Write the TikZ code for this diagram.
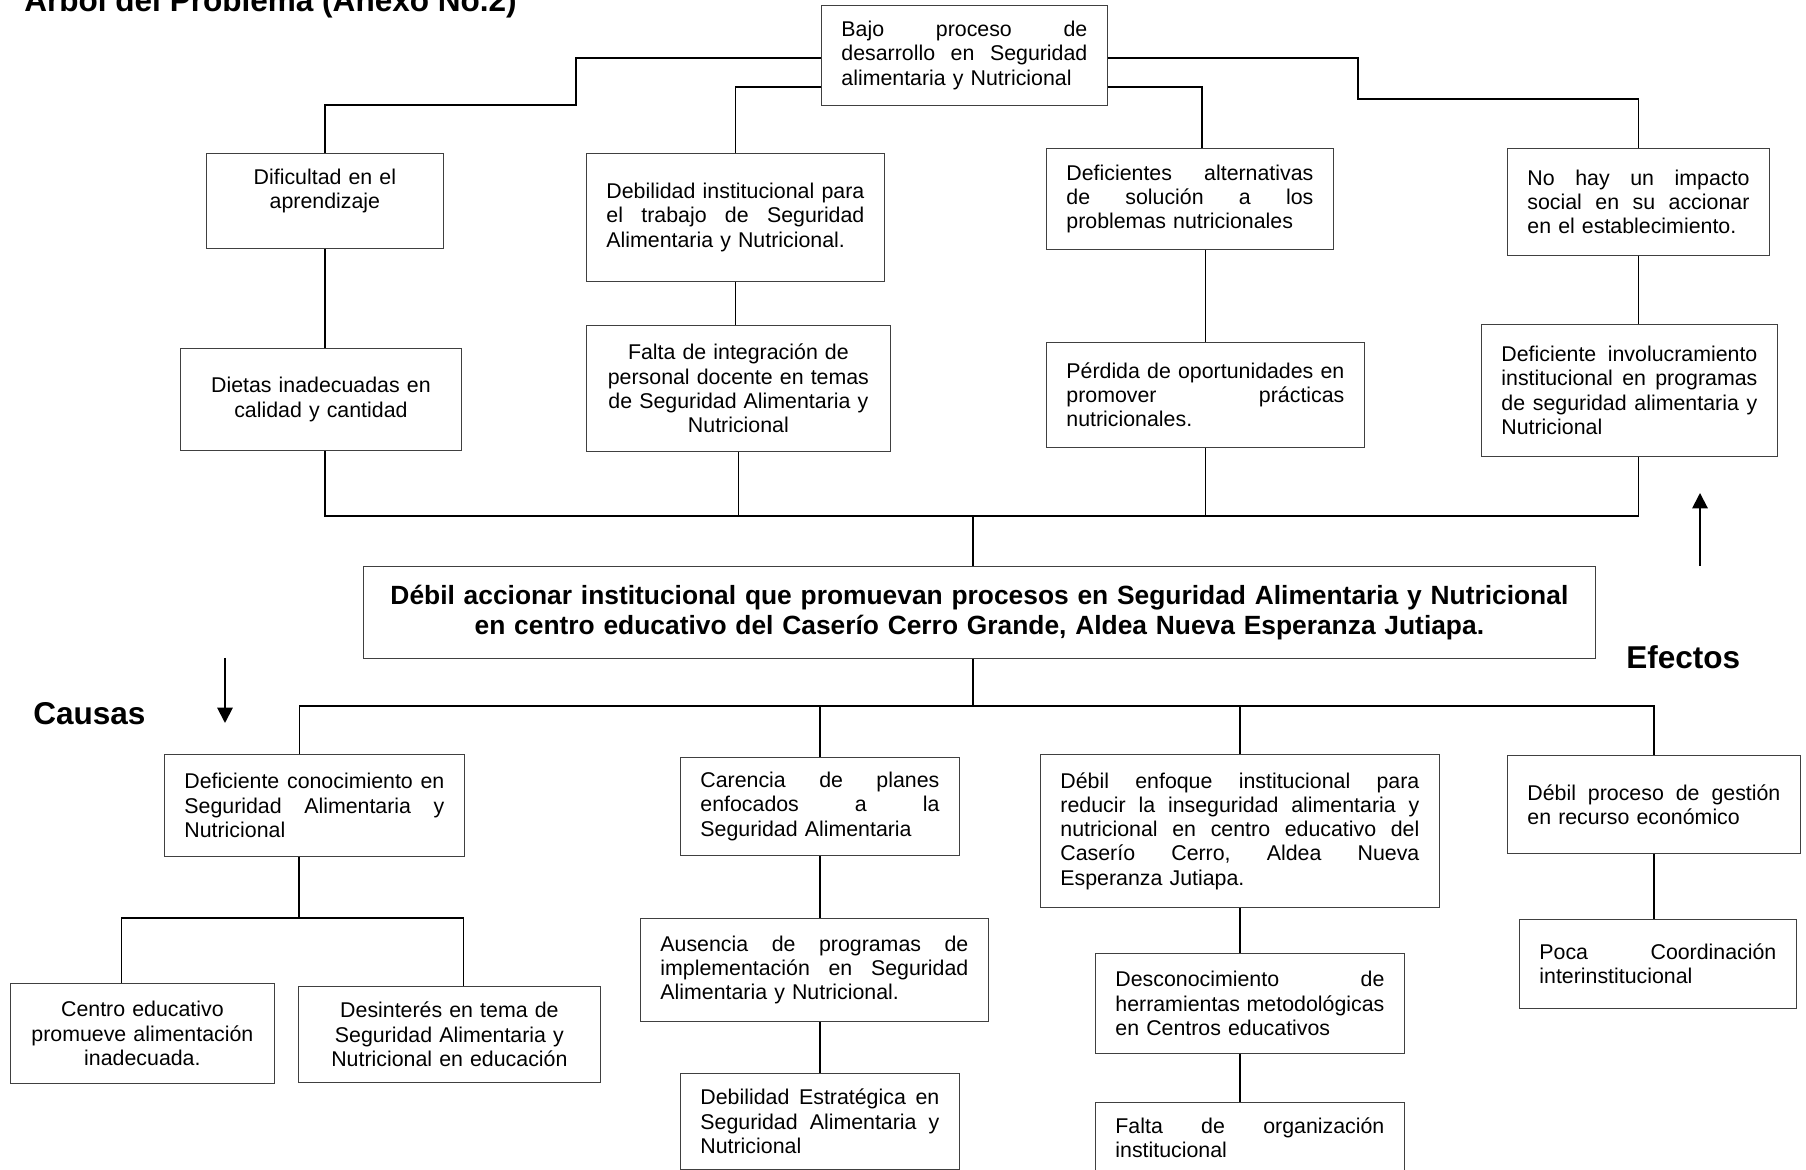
\documentclass[tikz,border=0pt]{standalone}
\usepackage{fontspec}
\setmainfont{Liberation Sans}
\usetikzlibrary{arrows.meta}
\frenchspacing

% tamanos de letra
\newcommand{\texto}{\fontsize{13.2}{15}\selectfont}
\newcommand{\textob}{\bfseries\fontsize{16.3}{18.6}\selectfont}
\newcommand{\titulo}{\bfseries\fontsize{19.5}{22}\selectfont}
% linea justificada
\newcommand{\jl}[1]{\noindent\hbox to \hsize{\spaceskip=0.278em plus 1fil\relax #1}}
\newcommand{\pxl}{0.2173mm}

\tikzset{
  caja/.style={draw=black!75, line width=0.5pt, anchor=north west, inner xsep=20*\pxl, inner ysep=0pt, font=\texto, align=left},
  conector/.style={line width=1pt},
  flecha/.style={line width=1.2pt, -{Triangle[width=9.5pt,length=9.5pt]}},
  rotulo/.style={anchor=base west, inner sep=0pt, font=\titulo}
}

\begin{document}
\begin{tikzpicture}[x=\pxl, y=-\pxl]
  \useasboundingbox (0,0) rectangle (1806,1170);

  \node[rotulo] (titulo) at (24,11.5) {Árbol del Problema (Anexo No.2)};

  % efectos
  \node[caja, minimum width=286*\pxl, minimum height=100*\pxl, text width=246*\pxl] (bajo) at (821,5)
    {\jl{Bajo proceso de}\\ \jl{desarrollo en Seguridad}\\ alimentaria y Nutricional};
  \node[caja, align=center, minimum width=237*\pxl, minimum height=95*\pxl, text width=197*\pxl] (dific) at (206,153)
    {Dificultad en el\\ aprendizaje\\ \mbox{}};
  \node[caja, minimum width=298*\pxl, minimum height=128*\pxl, text width=258*\pxl] (debinst) at (586,153)
    {\jl{Debilidad institucional para}\\ \jl{el trabajo de Seguridad}\\ Alimentaria y Nutricional.};
  \node[caja, minimum width=287*\pxl, minimum height=101*\pxl, text width=247*\pxl] (deficientes) at (1046,148)
    {\jl{Deficientes alternativas}\\ \jl{de solución a los}\\ problemas nutricionales};
  \node[caja, minimum width=262*\pxl, minimum height=107*\pxl, text width=222*\pxl] (nohay) at (1507,148)
    {\jl{No hay un impacto}\\ \jl{social en su accionar}\\ en el establecimiento.};

  \node[caja, align=center, minimum width=281*\pxl, minimum height=102*\pxl, text width=241*\pxl] (dietas) at (180,348)
    {Dietas inadecuadas en\\ calidad y cantidad};
  \node[caja, align=center, minimum width=304*\pxl, minimum height=126*\pxl, text width=264*\pxl] (faltaint) at (586,325)
    {Falta de integración de\\ personal docente en temas\\ de Seguridad Alimentaria y\\ Nutricional};
  \node[caja, minimum width=318*\pxl, minimum height=105*\pxl, text width=278*\pxl] (perdida) at (1046,342)
    {\jl{Pérdida de oportunidades en}\\ \jl{promover prácticas}\\ nutricionales.};
  \node[caja, minimum width=296*\pxl, minimum height=132*\pxl, text width=256*\pxl] (definv) at (1481,324)
    {\jl{Deficiente involucramiento}\\ \jl{institucional en programas}\\ \jl{de seguridad alimentaria y}\\ Nutricional};

  % problema central
  \node[caja, align=center, font=\textob, minimum width=1232*\pxl, minimum height=92*\pxl, text width=1192*\pxl] (central) at (363,566)
    {Débil accionar institucional que promuevan procesos en Seguridad Alimentaria y Nutricional\\ en centro educativo del Caserío Cerro Grande, Aldea Nueva Esperanza Jutiapa.};

  % causas
  \node[caja, minimum width=300*\pxl, minimum height=102*\pxl, text width=260*\pxl] (defcon) at (164,754)
    {\jl{Deficiente conocimiento en}\\ \jl{Seguridad Alimentaria y}\\ Nutricional};
  \node[caja, minimum width=279*\pxl, minimum height=98*\pxl, text width=239*\pxl] (carencia) at (680,757)
    {\jl{Carencia de planes}\\ \jl{enfocados a la}\\ Seguridad Alimentaria};
  \node[caja, minimum width=399*\pxl, minimum height=153*\pxl, text width=359*\pxl] (enfoque) at (1040,754)
    {\jl{Débil enfoque institucional para}\\ \jl{reducir la inseguridad alimentaria y}\\ \jl{nutricional en centro educativo del}\\ \jl{Caserío Cerro, Aldea Nueva}\\ Esperanza Jutiapa.};
  \node[caja, minimum width=293*\pxl, minimum height=98*\pxl, text width=253*\pxl] (gestion) at (1507,755)
    {\jl{Débil proceso de gestión}\\ en recurso económico};

  \node[caja, align=center, minimum width=264*\pxl, minimum height=100*\pxl, text width=224*\pxl] (centro) at (10,983)
    {Centro educativo\\ promueve alimentación\\ inadecuada.};
  \node[caja, align=center, minimum width=302*\pxl, minimum height=96*\pxl, text width=262*\pxl] (desinteres) at (298,986)
    {Desinterés en tema de\\ Seguridad Alimentaria y\\ Nutricional en educación};
  \node[caja, minimum width=348*\pxl, minimum height=103*\pxl, text width=308*\pxl] (ausencia) at (640,918)
    {\jl{Ausencia de programas de}\\ \jl{implementación en Seguridad}\\ Alimentaria y Nutricional.};
  \node[caja, minimum width=279*\pxl, minimum height=96*\pxl, text width=239*\pxl] (estrategica) at (680,1073)
    {\jl{Debilidad Estratégica en}\\ \jl{Seguridad Alimentaria y}\\ Nutricional};
  \node[caja, minimum width=309*\pxl, minimum height=100*\pxl, text width=269*\pxl] (descon) at (1095,953)
    {\jl{Desconocimiento de}\\ \jl{herramientas metodológicas}\\ en Centros educativos};
  \node[caja, minimum width=309*\pxl, minimum height=70*\pxl, text width=269*\pxl] (faltaorg) at (1095,1102)
    {\jl{Falta de organización}\\ institucional};
  \node[caja, minimum width=277*\pxl, minimum height=89*\pxl, text width=237*\pxl] (poca) at (1519,919)
    {\jl{Poca Coordinación}\\ interinstitucional};

  \node[rotulo] (causas) at (33,725) {Causas};
  \node[rotulo] (efectos) at (1626,669) {Efectos};

  % conectores de efectos
  \draw[conector] (bajo.west |- 0,58) -| (576,105) -| (dific.north);
  \draw[conector] (bajo.west |- 0,87) -| (debinst.north);
  \draw[conector] (bajo.east |- 0,58) -| (1358,99) -| (nohay.north);
  \draw[conector] (bajo.east |- 0,87) -| ([xshift=12*\pxl]deficientes.north);

  \draw[conector] (dific.south) -- (dific.south |- dietas.north);
  \draw[conector] (debinst.south) -- (debinst.south |- faltaint.north);
  \draw[conector] (perdida.north |- deficientes.south) -- (perdida.north);
  \draw[conector] (nohay.south) -- (nohay.south |- definv.north);

  \coordinate (barraefectos) at (973,516);
  \draw[conector] (dific.south |- dietas.south) |- (barraefectos) -| (nohay.south |- definv.south);
  \draw[conector] (faltaint.south) -- (faltaint.south |- barraefectos);
  \draw[conector] (perdida.south) -- (perdida.south |- barraefectos);
  \draw[conector] (barraefectos) -- (barraefectos |- central.north);

  % conectores de causas
  \coordinate (barracausas) at (973,706);
  \draw[conector] (barracausas |- central.south) -- (barracausas);
  \draw[conector] ([xshift=-15*\pxl]defcon.north) |- (barracausas) -| (gestion.north);
  \draw[conector] (carencia.north) -- (carencia.north |- barracausas);
  \draw[conector] (enfoque.north) -- (enfoque.north |- barracausas);

  \coordinate (barradefcon) at (299,918);
  \draw[conector] (barradefcon |- defcon.south) -- (barradefcon);
  \draw[conector] ([xshift=-21*\pxl]centro.north) |- ([xshift=14*\pxl]desinteres.north |- barradefcon) -- ([xshift=14*\pxl]desinteres.north);

  \draw[conector] (carencia.south) -- (carencia.south |- ausencia.north);
  \draw[conector] (estrategica.north |- ausencia.south) -- (estrategica.north);
  \draw[conector] (enfoque.south) -- (enfoque.south |- descon.north);
  \draw[conector] (enfoque.south |- descon.south) -- (enfoque.south |- faltaorg.north);
  \draw[conector] (gestion.south) -- (gestion.south |- poca.north);

  % flechas
  \coordinate (causasini) at (225,658);
  \coordinate (causasfin) at (225,723);
  \draw[flecha] (causasini) -- (causasfin);
  \coordinate (efectosini) at (1700,566);
  \coordinate (efectosfin) at (1700,493);
  \draw[flecha] (efectosini) -- (efectosfin);
\end{tikzpicture}
\end{document}
